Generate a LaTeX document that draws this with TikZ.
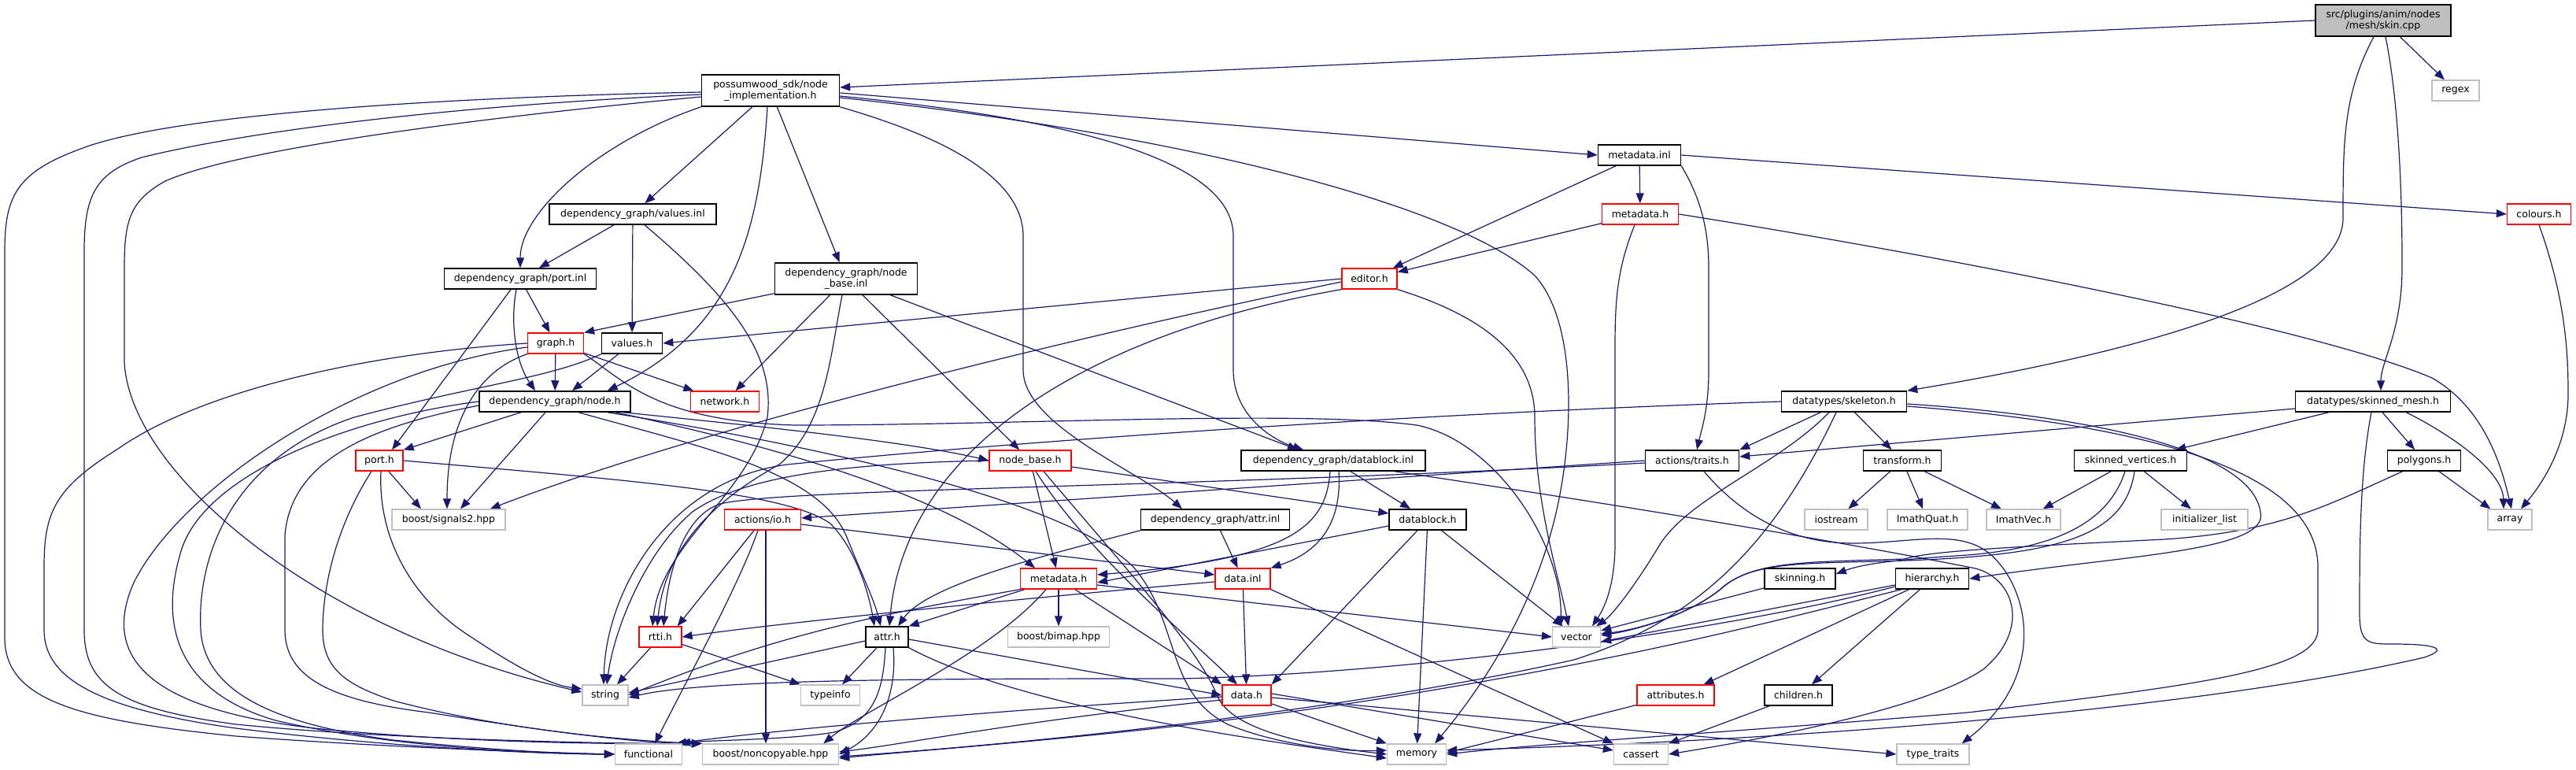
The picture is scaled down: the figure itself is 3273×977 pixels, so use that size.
\documentclass[tikz,border=0pt]{standalone}
\usepackage{fontspec}
\setmainfont{DejaVu Sans}
\usetikzlibrary{arrows.meta,calc}
\pgfdeclarelayer{bg}
\pgfsetlayers{bg,main}
\definecolor{edgec}{HTML}{191970}
\definecolor{grayb}{HTML}{BFBFBF}
\definecolor{redb}{HTML}{FF0000}
\tikzset{
  nd/.style={draw=black, line width=1.5pt, fill=white, inner sep=0pt, minimum height=26pt, align=center, text=black},
  rd/.style={nd, draw=redb, line width=1.3pt},
  gy/.style={nd, draw=grayb, line width=1.3pt},
  tw/.style={minimum height=40pt},
  ed/.style={draw=edgec, line width=1.2pt, -{Triangle[length=13pt,width=10pt]}, fill=none},
}
\begin{document}
\begin{tikzpicture}[x=1pt,y=-1pt,font=\fontsize{12.5pt}{14.5pt}\selectfont]
\useasboundingbox (0,0) rectangle (3273,977);
% nodes
\node[nd,fill=grayb,tw,minimum width=172pt] (skin) at (3028,26) {src/plugins/anim/nodes\\/mesh/skin.cpp};
\node[gy,minimum width=60pt] (regex) at (3120,115) {regex};
\node[nd,tw,minimum width=175pt] (pw) at (979,115) {possumwood\_sdk/node\\\_implementation.h};
\node[nd,minimum width=105pt] (mdinl) at (2083,197) {metadata.inl};
\node[nd,minimum width=212pt] (valinl) at (804,272) {dependency\_graph/values.inl};
\node[rd,minimum width=97pt] (mdtop) at (2084,272) {metadata.h};
\node[rd,minimum width=81pt] (colours) at (3226,272) {colours.h};
\node[nd,minimum width=193pt] (portinl) at (661,354) {dependency\_graph/port.inl};
\node[nd,tw,minimum width=181pt] (nbinl) at (1075,354) {dependency\_graph/node\\\_base.inl};
\node[rd,minimum width=70pt] (editor) at (1740,354) {editor.h};
\node[rd,minimum width=71pt] (graph) at (706,436) {graph.h};
\node[nd,minimum width=77pt] (valh) at (803,436) {values.h};
\node[nd,minimum width=192pt] (nodeh) at (705,510) {dependency\_graph/node.h};
\node[rd,minimum width=87pt] (network) at (921,510) {network.h};
\node[nd,minimum width=159pt] (skeleton) at (2343,510) {datatypes/skeleton.h};
\node[nd,minimum width=197pt] (skmesh) at (3015,510) {datatypes/skinned\_mesh.h};
\node[rd,minimum width=60pt] (porth) at (482,585) {port.h};
\node[rd,minimum width=104pt] (nbh) at (1309,585) {node\_base.h};
\node[nd,minimum width=234pt] (dbinl) at (1694,585) {dependency\_graph/datablock.inl};
\node[nd,minimum width=119pt] (traits) at (2150,585) {actions/traits.h};
\node[nd,minimum width=99pt] (transform) at (2417,585) {transform.h};
\node[nd,minimum width=143pt] (skverts) at (2707,585) {skinned\_vertices.h};
\node[nd,minimum width=93pt] (polygons) at (3080,585) {polygons.h};
\node[gy,minimum width=144pt] (signals) at (570,660) {boost/signals2.hpp};
\node[rd,minimum width=97pt] (io) at (969,660) {actions/io.h};
\node[nd,minimum width=189pt] (attrinl) at (1544,660) {dependency\_graph/attr.inl};
\node[nd,minimum width=98pt] (dbh) at (1814,660) {datablock.h};
\node[gy,minimum width=80pt] (iostream) at (2333,660) {iostream};
\node[gy,minimum width=102pt] (quat) at (2449,660) {ImathQuat.h};
\node[gy,minimum width=94pt] (vec) at (2571,660) {ImathVec.h};
\node[gy,minimum width=110pt] (initlist) at (2801,660) {initializer\_list};
\node[gy,minimum width=56pt] (array) at (3189,660) {array};
\node[rd,minimum width=97pt] (mdlow) at (1345,735) {metadata.h};
\node[rd,minimum width=70pt] (datainl) at (1579,735) {data.inl};
\node[nd,minimum width=90pt] (skinning) at (2287,735) {skinning.h};
\node[nd,minimum width=93pt] (hierarchy) at (2455,735) {hierarchy.h};
\node[rd,minimum width=54pt] (rtti) at (839,809) {rtti.h};
\node[nd,minimum width=54pt] (attrh) at (1127,809) {attr.h};
\node[gy,minimum width=129pt] (bimap) at (1345,809) {boost/bimap.hpp};
\node[gy,minimum width=61pt] (vector) at (2003,809) {vector};
\node[gy,minimum width=58pt] (string) at (769,883) {string};
\node[gy,minimum width=75pt] (typeinfo) at (1055,883) {typeinfo};
\node[rd,minimum width=62pt] (datah) at (1584,883) {data.h};
\node[rd,minimum width=98pt] (attributes) at (2129,883) {attributes.h};
\node[nd,minimum width=86pt] (children) at (2285,883) {children.h};
\node[gy,minimum width=85pt] (functional) at (824,958) {functional};
\node[gy,minimum width=173pt] (noncopy) at (979,958) {boost/noncopyable.hpp};
\node[gy,minimum width=75pt] (memory) at (1800,958) {memory};
\node[gy,minimum width=69pt] (cassert) at (2085,958) {cassert};
\node[gy,minimum width=92pt] (typetraits) at (2456,958) {type\_traits};
\begin{pgfonlayer}{bg}
% skin
\draw[ed] (skin.west) -- ($(pw.east)+(0,-4)$);
\draw[ed] (skin) -- (regex);
\draw[ed] ($(skin.south)+(-12,0)$) .. controls (2977,120) and (2977,180) .. (2977,277) .. controls (2977,380) and (2700,450) .. (skeleton.north east);
\draw[ed] ($(skin.south)+(3,0)$) .. controls (3052,150) and (3052,300) .. (3052,340) .. controls (3052,420) and (3025,460) .. ($(skmesh.north)+(10,0)$);
% possumwood
\draw[ed] ($(pw.west)+(0,2)$) .. controls (500,125) and (200,150) .. (100,190) .. controls (20,220) and (6,250) .. (6,320) -- (6,810) .. controls (6,890) and (100,915) .. (300,935) .. controls (500,950) and (700,956) .. (functional.west);
\draw[ed] ($(pw.west)+(0,5)$) .. controls (550,135) and (300,170) .. (180,200) .. controls (120,220) and (107,250) .. (107,320) -- (107,800) .. controls (107,870) and (150,900) .. (300,920) .. controls (500,940) and (800,945) .. (noncopy.north west);
\draw[ed] ($(pw.west)+(0,8)$) .. controls (600,150) and (300,190) .. (210,230) .. controls (165,255) and (158,280) .. (158,340) -- (158,460) .. controls (165,600) and (400,800) .. ($(string.west)+(0,-4)$);
\draw[ed] (pw.south west) .. controls (760,180) and (661,270) .. (portinl.north);
\draw[ed] (pw) -- (valinl);
\draw[ed] ($(pw.south)+(-4,0)$) .. controls (965,300) and (930,420) .. ($(nodeh.north east)+(-30,0)$);
\draw[ed] (pw) -- (nbinl);
\draw[ed] (pw.south east) .. controls (1150,160) and (1300,210) .. (1300,300) -- (1300,470) .. controls (1300,540) and (1450,600) .. ($(attrinl.north)+(-42,0)$);
\draw[ed] ($(pw.east)+(0,7)$) .. controls (1350,150) and (1567,200) .. (1567,300) -- (1567,470) .. controls (1567,530) and (1620,560) .. ($(dbinl.north)+(-38,0)$);
\draw[ed] ($(pw.east)+(0,9)$) .. controls (1500,170) and (1850,260) .. (1950,350) .. controls (2005,410) and (2000,560) .. (1975,660) .. controls (1940,800) and (1860,900) .. ($(memory.north east)+(-15,0)$);
\draw[ed] ($(pw.east)+(0,3)$) -- (mdinl.west);
% metadata.inl
\draw[ed] (mdinl) -- (editor);
\draw[ed] (mdinl) -- (mdtop);
\draw[ed] (mdinl.east) -- (colours.west);
\draw[ed] (mdinl.south east) .. controls (2160,250) and (2171,290) .. (2171,340) -- (2171,470) .. controls (2171,520) and (2162,545) .. ($(traits.north)+(6,0)$);
% metadata.h top
\draw[ed] (mdtop) -- (editor);
\draw[ed] ($(mdtop.south)+(-7,0)$) .. controls (2055,340) and (2052,380) .. (2052,440) -- (2052,690) .. controls (2052,740) and (2040,770) .. ($(vector.north)+(20,0)$);
\draw[ed] (mdtop.east) .. controls (2500,330) and (2950,420) .. (3090,480) .. controls (3160,520) and (3180,600) .. ($(array.north)+(2,0)$);
\draw[ed] (colours.south) .. controls (3260,380) and (3263,450) .. (3263,500) .. controls (3263,570) and (3225,620) .. ($(array.north)+(14,0)$);
% values.inl
\draw[ed] (valinl) -- (portinl);
\draw[ed] (valinl) -- (valh);
\draw[ed] ($(valinl.south)+(15,0)$) .. controls (930,380) and (985,450) .. (975,530) .. controls (950,630) and (840,690) .. ($(rtti.north)+(-10,0)$);
% port.inl
\draw[ed] (portinl) -- (graph);
\draw[ed] ($(portinl.south)+(-5,0)$) .. controls (648,410) and (655,460) .. ($(nodeh.north)+(-25,0)$);
\draw[ed] ($(portinl.south)+(-12,0)$) -- ($(porth.north)+(16,0)$);
% node_base.inl
\draw[ed] ($(nbinl.south west)+(0,-2)$) -- (graph.north east);
\draw[ed] (nbinl) -- (network);
\draw[ed] ($(nbinl.south)+(-5,0)$) .. controls (1055,450) and (1050,540) .. (990,590) .. controls (900,640) and (845,700) .. ($(rtti.north)+(-4,0)$);
\draw[ed] (nbinl) -- (nbh);
\draw[ed] ($(nbinl.south east)+(-35,0)$) -- ($(dbinl.north)+(-45,0)$);
% editor
\draw[ed] (editor.west) -- (valh.east);
\draw[ed] ($(editor.west)+(0,4)$) .. controls (1400,420) and (900,540) .. ($(signals.north east)+(-20,0)$);
\draw[ed] (editor.south west) .. controls (1400,420) and (1150,560) .. ($(attrh.north)+(3,0)$);
\draw[ed] (editor.south east) .. controls (1880,400) and (1950,450) .. (1950,530) .. controls (1950,640) and (1980,730) .. ($(vector.north)+(-10,0)$);
% graph
\draw[ed] (graph) -- (nodeh);
\draw[ed] (graph) -- (network);
\draw[ed] (graph.south west) .. controls (610,470) and (568,530) .. ($(signals.north)+(-2,0)$);
\draw[ed] (graph.west) .. controls (450,450) and (250,500) .. (150,570) .. controls (70,620) and (56,650) .. (56,720) -- (56,800) .. controls (56,860) and (120,900) .. (300,925) .. controls (500,950) and (700,958) .. (functional.west);
\draw[ed] ($(graph.west)+(0,5)$) .. controls (450,470) and (230,620) .. (170,740) .. controls (130,830) and (180,900) .. (400,925) .. controls (600,945) and (800,945) .. (noncopy.north west);
\draw[ed] (graph.south east) .. controls (790,480) and (830,535) .. (1010,540) .. controls (1300,540) and (1650,520) .. (1800,540) .. controls (1900,560) and (1985,690) .. ($(vector.north)+(-20,0)$);
% values.h
\draw[ed] (valh) -- ($(nodeh.north)+(22,0)$);
\draw[ed] (valh.south west) .. controls (700,480) and (600,490) .. (450,530) .. controls (300,580) and (250,700) .. (255,800) .. controls (260,880) and (350,920) .. (500,940) .. controls (650,955) and (720,957) .. (functional.west);
% node.h
\draw[ed] (nodeh) -- (porth.north east);
\draw[ed] ($(nodeh.south)+(-12,0)$) -- ($(signals.north)+(15,0)$);
\draw[ed] (nodeh.west) .. controls (450,530) and (260,600) .. (230,700) .. controls (200,800) and (230,880) .. (350,915) .. controls (500,950) and (680,957) .. (functional.west);
\draw[ed] ($(nodeh.west)+(0,5)$) .. controls (480,540) and (370,580) .. (362,680) -- (362,800) .. controls (362,860) and (420,890) .. (545,905) .. controls (700,930) and (820,945) .. (noncopy.north west);
\draw[ed] ($(nodeh.south east)+(-10,0)$) .. controls (950,540) and (1150,560) .. (nbh.west);
\draw[ed] ($(nodeh.south east)+(-20,0)$) .. controls (1000,570) and (1200,630) .. ($(mdlow.north)+(-30,0)$);
\draw[ed] ($(nodeh.south)+(30,0)$) .. controls (900,570) and (1040,600) .. (1075,680) .. controls (1095,730) and (1110,760) .. ($(attrh.north)+(-8,0)$);
\draw[ed] ($(nodeh.south east)+(-30,0)$) .. controls (1000,560) and (1350,630) .. (1440,720) .. controls (1500,790) and (1480,880) .. (1560,920) .. controls (1620,945) and (1700,955) .. ($(memory.west)+(0,-5)$);
% port.h
\draw[ed] (porth) -- ($(signals.north)+(-35,0)$);
\draw[ed] ($(porth.south)+(2,0)$) .. controls (480,680) and (520,760) .. (600,810) .. controls (660,850) and (700,870) .. ($(string.west)+(0,-8)$);
\draw[ed] ($(porth.south)+(-10,0)$) .. controls (420,680) and (410,760) .. (410,800) .. controls (410,850) and (440,870) .. (500,890) .. controls (650,930) and (820,942) .. (noncopy.north west);
\draw[ed] (porth.east) .. controls (800,610) and (1000,625) .. (1055,665) .. controls (1090,700) and (1105,760) .. ($(attrh.north)+(-16,0)$);
% node_base.h
\draw[ed] (nbh) -- (mdlow);
\draw[ed] ($(nbh.south)+(7,0)$) .. controls (1380,700) and (1500,800) .. ($(datah.north)+(-12,0)$);
\draw[ed] ($(nbh.south)+(17,0)$) .. controls (1420,710) and (1520,820) .. (1545,880) .. controls (1560,925) and (1650,945) .. (memory.west);
\draw[ed] ($(nbh.east)+(0,8)$) -- ($(dbh.west)+(0,-8)$);
\draw[ed] (nbh.west) .. controls (1100,588) and (950,600) .. (880,650) .. controls (820,700) and (780,800) .. ($(string.north)+(2,0)$);
% datablock.inl
\draw[ed] (dbinl) -- (dbh);
\draw[ed] ($(dbinl.south)+(7,0)$) .. controls (1705,660) and (1680,700) .. (datainl.north east);
\draw[ed] ($(dbinl.south)+(-4,0)$) .. controls (1685,670) and (1640,710) .. ($(mdlow.east)+(0,-5)$);
\draw[ed] ($(dbinl.south east)+(-40,0)$) .. controls (1950,625) and (2300,680) .. (2510,722) .. controls (2560,735) and (2580,800) .. (2520,850) .. controls (2440,905) and (2200,945) .. (cassert.east);
% attr.inl
\draw[ed] (attrinl.south west) .. controls (1350,700) and (1180,740) .. ($(attrh.north)+(14,0)$);
\draw[ed] (attrinl) -- (datainl);
% datablock.h
\draw[ed] ($(dbh.west)+(0,8)$) -- ($(mdlow.east)+(0,5)$);
\draw[ed] (dbh) -- (datah.north east);
\draw[ed] (dbh) -- (memory);
\draw[ed] (dbh) -- (vector);
% metadata.h low
\draw[ed] (mdlow) -- (attrh.north east);
\draw[ed] (mdlow) -- (bimap);
\draw[ed] (mdlow) -- (datah.north west);
\draw[ed] ($(mdlow.east)+(0,8)$) -- (vector.west);
\draw[ed] (mdlow.south west) .. controls (1150,775) and (1000,800) .. (string.east);
\draw[ed] ($(mdlow.south)+(-16,0)$) .. controls (1260,830) and (1100,900) .. ($(noncopy.north east)+(-20,0)$);
% data.inl
\draw[ed] ($(datainl.west)+(0,4)$) .. controls (1350,755) and (1000,790) .. (rtti.east);
\draw[ed] (datainl) -- (datah);
\draw[ed] (datainl.south east) -- (cassert.north west);
% io
\draw[ed] (io) -- ($(rtti.north east)+(-6,0)$);
\draw[ed] ($(io.south)+(-6,0)$) .. controls (940,740) and (880,850) .. ($(functional.north)+(8,0)$);
\draw[ed] ($(io.south)+(4,0)$) -- ($(noncopy.north)+(-6,0)$);
\draw[ed] ($(io.east)+(0,6)$) -- ($(datainl.west)+(0,-5)$);
% traits
\draw[ed] (traits.west) -- ($(io.east)+(0,-2)$);
\draw[ed] ($(traits.west)+(0,3)$) .. controls (1500,620) and (1000,620) .. (915,640) .. controls (870,655) and (850,720) .. ($(rtti.north)+(4,0)$);
\draw[ed] ($(traits.south)+(15,0)$) .. controls (2200,640) and (2260,690) .. (2354,690) .. controls (2430,690) and (2490,670) .. (2530,705) .. controls (2580,750) and (2600,860) .. ($(typetraits.north east)+(-10,0)$);
% rtti
\draw[ed] (rtti) -- ($(string.north)+(15,0)$);
\draw[ed] (rtti) -- (typeinfo.north west);
% attr.h
\draw[ed] (attrh) -- ($(typeinfo.north)+(15,0)$);
\draw[ed] ($(attrh.west)+(0,5)$) -- ($(string.east)+(0,-3)$);
\draw[ed] ($(attrh.south)+(-2,0)$) .. controls (1122,880) and (1110,915) .. (1060,930) .. controls (1000,940) and (900,940) .. ($(functional.north east)+(-3,0)$);
\draw[ed] ($(attrh.south)+(8,0)$) .. controls (1140,880) and (1120,930) .. (noncopy.east);
\draw[ed] ($(attrh.east)+(0,3)$) -- (datah.west);
\draw[ed] (attrh.south east) .. controls (1300,900) and (1600,940) .. ($(memory.west)+(0,5)$);
% data.h
\draw[ed] ($(datah.west)+(0,2)$) .. controls (1300,900) and (1000,925) .. ($(functional.north east)+(-8,0)$);
\draw[ed] ($(datah.west)+(0,6)$) .. controls (1300,915) and (1150,945) .. ($(noncopy.east)+(0,-3)$);
\draw[ed] (datah) -- (memory.north west);
\draw[ed] ($(datah.east)+(0,-2)$) -- ($(cassert.west)+(0,-5)$);
\draw[ed] ($(datah.east)+(0,3)$) -- (typetraits.west);
% skeleton
\draw[ed] (skeleton) -- (traits.north east);
\draw[ed] (skeleton) -- (transform);
\draw[ed] ($(skeleton.south)+(-19,0)$) .. controls (2260,590) and (2150,630) .. (2110,690) .. controls (2080,740) and (2050,780) .. ($(vector.north east)+(-6,0)$);
\draw[ed] ($(skeleton.south)+(-10,0)$) .. controls (2250,700) and (2150,790) .. (2000,838) .. controls (1700,905) and (1300,945) .. ($(noncopy.east)+(0,3)$);
\draw[ed] (skeleton.west) .. controls (1800,525) and (1300,560) .. (1000,590) .. controls (850,610) and (770,750) .. ($(string.north)+(-2,0)$);
\draw[ed] ($(skeleton.east)+(0,3)$) .. controls (2650,528) and (2860,570) .. (2872,650) .. controls (2885,700) and (2700,705) .. (hierarchy.east);
\draw[ed] ($(skeleton.east)+(0,6)$) .. controls (2800,545) and (2945,620) .. (2945,720) -- (2945,800) .. controls (2945,850) and (2800,870) .. (2500,905) .. controls (2200,930) and (1950,945) .. (memory.east);
% skinned_mesh
\draw[ed] ($(skmesh.west)+(0,9)$) -- ($(traits.east)+(0,-5)$);
\draw[ed] (skmesh) -- ($(skverts.north east)+(-15,0)$);
\draw[ed] (skmesh) -- (polygons);
\draw[ed] ($(skmesh.south east)+(-57,0)$) .. controls (3120,555) and (3180,600) .. ($(array.north)+(-8,0)$);
\draw[ed] ($(skmesh.south)+(-2,0)$) .. controls (2998,600) and (2998,700) .. (2998,780) .. controls (2998,818) and (3010,818) .. (3040,818) .. controls (3100,818) and (3110,825) .. (3080,835) .. controls (2800,900) and (2300,940) .. ($(memory.east)+(0,-5)$);
% transform
\draw[ed] (transform) -- (iostream);
\draw[ed] (transform) -- (quat);
\draw[ed] (transform) -- (vec);
% skinned_vertices
\draw[ed] (skverts) -- (vec);
\draw[ed] (skverts) -- (initlist);
\draw[ed] ($(skverts.south)+(-7,0)$) .. controls (2680,660) and (2620,695) .. (2500,705) .. controls (2420,710) and (2370,715) .. ($(skinning.east)+(0,-6)$);
\draw[ed] ($(skverts.south)+(5,0)$) .. controls (2700,680) and (2620,705) .. (2420,712) .. controls (2300,716) and (2230,712) .. (2190,745) .. controls (2150,780) and (2080,800) .. ($(vector.east)+(0,-4)$);
% polygons
\draw[ed] (polygons) -- ($(array.north west)+(4,0)$);
\draw[ed] ($(polygons.south west)+(20,0)$) .. controls (2960,640) and (2900,675) .. (2750,685) .. controls (2550,695) and (2450,700) .. (2420,710) .. controls (2300,714) and (2230,712) .. (2190,745) .. controls (2150,780) and (2080,800) .. ($(vector.east)+(0,-2)$);
% skinning
\draw[ed] (skinning) -- (vector);
% hierarchy
\draw[ed] ($(hierarchy.west)+(0,8)$) -- ($(vector.east)+(0,6)$);
\draw[ed] ($(hierarchy.west)+(0,10)$) .. controls (2200,800) and (1800,855) .. (1500,862) .. controls (1200,862) and (900,862) .. ($(string.east)+(0,3)$);
\draw[ed] ($(hierarchy.south west)+(8,0)$) .. controls (2250,790) and (2100,830) .. (1800,880) .. controls (1500,930) and (1200,950) .. ($(noncopy.east)+(0,5)$);
\draw[ed] (hierarchy) -- ($(attributes.north east)+(-14,0)$);
\draw[ed] (hierarchy) -- ($(children.north)+(17,0)$);
\draw[ed] (attributes) -- ($(memory.east)+(0,-2)$);
\draw[ed] (children) -- (cassert.north east);
\end{pgfonlayer}
\end{tikzpicture}
\end{document}
